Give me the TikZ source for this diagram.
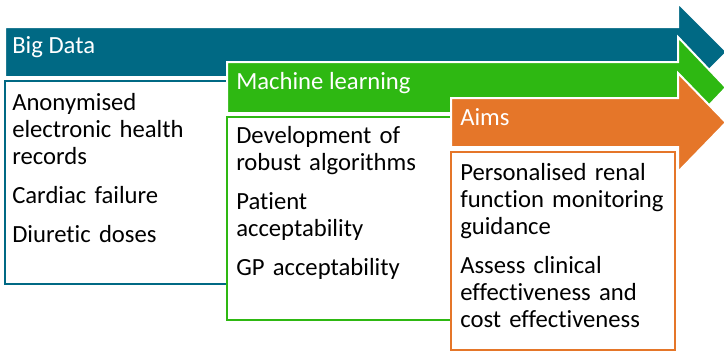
\documentclass[tikz,border=0pt]{standalone}
\usepackage{fontspec}
\setmainfont{Carlito}[Ligatures=NoCommon]
\definecolor{datateal}{RGB}{0,105,132}
\definecolor{mlgreen}{RGB}{46,184,18}
\definecolor{aimsorange}{RGB}{229,118,41}
\tikzset{
  headarrow/.style={fill=#1, draw=white, line width=1.5pt, line join=miter},
  bodybox/.style={fill=white, draw=#1, line width=1.6pt},
  headtext/.style={anchor=base west, inner sep=0pt, text=white, font=\fontsize{18.5}{20.25}\selectfont},
  bodytext/.style={anchor=base west, inner sep=0pt, text width=#1, align=left, font=\fontsize{18.5}{20.25}\selectfont},
}
\begin{document}
\begin{tikzpicture}[x=0.75pt,y=0.75pt,yscale=-1]
\useasboundingbox (0,0) rectangle (724,351);

%Shape: Arrow [id:bigdata]
\draw [headarrow=datateal] (5,27) -- (678,27) -- (678,3) -- (727,52) -- (678,101) -- (678,77) -- (5,77) -- cycle ;
%Shape: Open box [id:bigdatabox]
\draw [bodybox=datateal] (240,81) -- (5,81) -- (5,284) -- (240,284) ;

%Shape: Arrow [id:mlearning]
\draw [headarrow=mlgreen] (227,62) -- (678,62) -- (678,37) -- (726,87.5) -- (678,138) -- (678,113) -- (227,113) -- cycle ;
%Shape: Open box [id:mlearningbox]
\draw [bodybox=mlgreen] (465,117) -- (227,117) -- (227,320) -- (465,320) ;

%Shape: Arrow [id:aims]
\draw [headarrow=aimsorange] (451,98) -- (678,98) -- (678,73) -- (726,122.5) -- (678,172) -- (678,147) -- (451,147) -- cycle ;
%Shape: Rectangle [id:aimsbox]
\draw [bodybox=aimsorange] (451,152) rectangle (675,350) ;

% Text Node
\node [headtext] (bigdatalabel) at (12,53) {Big Data};
% Text Node
\node [bodytext=210] (bigdatalist) at (12,110) {Anonymised\\electronic health\\records\\[9pt]Cardiac failure\\[9pt]Diuretic doses};

% Text Node
\node [headtext] (mlearninglabel) at (236,89) {Machine learning};
% Text Node
\node [bodytext=210] (mlearninglist) at (236,143) {Development of\\robust algorithms\\[9pt]Patient\\acceptability\\[9pt]GP acceptability};

% Text Node
\node [headtext] (aimslabel) at (460,125) {Aims};
% Text Node
\node [bodytext=210] (aimslist) at (460,180) {Personalised renal\\function monitoring\\guidance\\[9pt]Assess clinical\\effectiveness and\\cost effectiveness};

\end{tikzpicture}
\end{document}
